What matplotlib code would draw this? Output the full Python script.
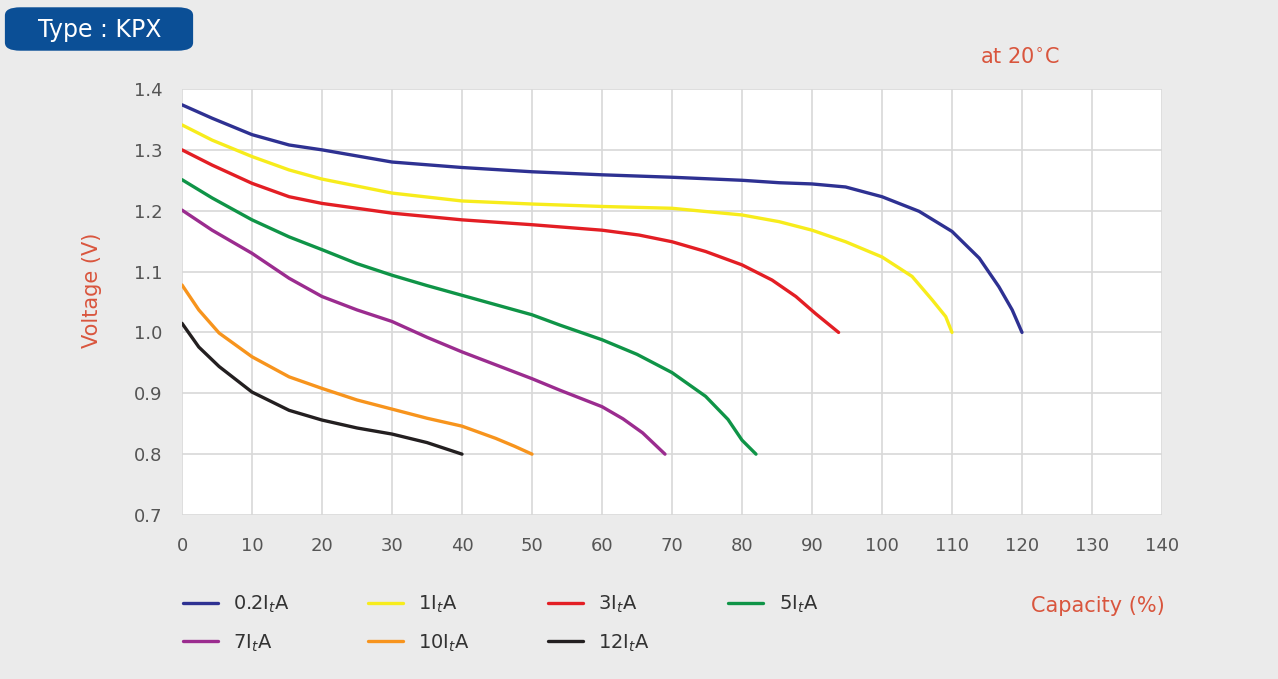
import matplotlib.pyplot as plt
from matplotlib.patches import FancyBboxPatch

# discharge curves (capacity %, voltage V)
cap_02 = [0, 4.3, 10, 15.3, 20, 30, 40, 50, 60, 70, 80, 85.3, 90, 94.8, 100, 105.3, 110, 113.9, 116.7, 118.6, 120]
v_02 = [1.374, 1.352, 1.325, 1.308, 1.300, 1.280, 1.271, 1.264, 1.259, 1.255, 1.250, 1.246, 1.244, 1.239, 1.223,
        1.199, 1.166, 1.122, 1.075, 1.037, 1.000]

cap_1 = [0, 4.3, 10, 15.3, 20, 30, 40, 50, 60, 70, 80, 85.3, 90, 94.8, 100, 104.3, 107.2, 109.1, 110]
v_1 = [1.341, 1.316, 1.289, 1.267, 1.252, 1.229, 1.216, 1.211, 1.207, 1.204, 1.193, 1.182, 1.168, 1.149, 1.124,
       1.092, 1.053, 1.026, 1.000]

cap_3 = [0, 4.3, 10, 15.3, 20, 30, 40, 50, 60, 65.3, 70, 74.8, 80, 84.3, 87.7, 90.5, 93.8]
v_3 = [1.300, 1.275, 1.245, 1.223, 1.212, 1.196, 1.185, 1.177, 1.168, 1.160, 1.149, 1.133, 1.111, 1.086, 1.059,
       1.031, 1.000]

cap_5 = [0, 4.3, 10, 15.3, 20, 25, 30, 35, 40, 45, 50, 54, 60, 65, 70, 74.8, 78, 80, 82]
v_5 = [1.251, 1.221, 1.185, 1.157, 1.136, 1.113, 1.094, 1.077, 1.061, 1.045, 1.029, 1.012, 0.988, 0.964, 0.934,
       0.895, 0.857, 0.823, 0.800]

cap_7 = [0, 4.3, 10, 15.3, 20, 25, 30, 35, 40, 45, 50, 54, 60, 63, 65.8, 69]
v_7 = [1.201, 1.168, 1.130, 1.089, 1.059, 1.037, 1.018, 0.992, 0.968, 0.946, 0.924, 0.905, 0.878, 0.858, 0.835,
       0.800]

cap_10 = [0, 2.4, 5.3, 10, 15.3, 20, 25, 30, 35, 40, 44.8, 47.5, 50]
v_10 = [1.078, 1.037, 0.999, 0.960, 0.927, 0.908, 0.889, 0.874, 0.859, 0.846, 0.826, 0.813, 0.800]

cap_12 = [0, 2.4, 5.3, 10, 15.3, 20, 25, 30, 35, 40]
v_12 = [1.015, 0.976, 0.944, 0.902, 0.872, 0.856, 0.843, 0.833, 0.819, 0.800]

labels = ["0.2I$_t$A", "1I$_t$A", "3I$_t$A", "5I$_t$A", "7I$_t$A", "10I$_t$A", "12I$_t$A"]
colors = ["#2e3192", "#f7ec1c", "#e31e24", "#0f9447", "#9b2c8f", "#f7941d", "#231f20"]
series = [(cap_02, v_02), (cap_1, v_1), (cap_3, v_3), (cap_5, v_5),
          (cap_7, v_7), (cap_10, v_10), (cap_12, v_12)]

fig = plt.figure(figsize=(12.78, 6.79), dpi=100)
fig.patch.set_facecolor("#ebebeb")
ax = fig.add_axes([182 / 1278, 1 - 515 / 679, 980 / 1278, 426 / 679])
ax.set_facecolor("white")

handles = []
for (x, y), c, lab in zip(series, colors, labels):
    h, = ax.plot(x, y, color=c, lw=2.4, label=lab, solid_capstyle="round", solid_joinstyle="round")
    handles.append(h)

ax.set_xlim(0, 140)
ax.set_ylim(0.7, 1.4)
ax.set_xticks(range(0, 141, 10))
ax.set_yticks([0.7, 0.8, 0.9, 1.0, 1.1, 1.2, 1.3, 1.4])
ax.set_yticklabels(["0.7", "0.8", "0.9", "1.0", "1.1", "1.2", "1.3", "1.4"])
ax.grid(True, color="#d8d8d8", lw=1.2)
ax.set_axisbelow(True)
for s in ax.spines.values():
    s.set_visible(False)
ax.tick_params(length=0, labelsize=13, labelcolor="#555555")
ax.tick_params(axis="y", pad=14)
ax.tick_params(axis="x", pad=16)

red_txt = "#d9553d"
fig.text(92 / 1278, 1 - 290 / 679, "Voltage (V)", rotation=90, ha="center", va="center",
         fontsize=15, color=red_txt)
fig.text(1165 / 1278, 1 - 606 / 679, "Capacity (%)", ha="right", va="center",
         fontsize=15, color=red_txt)
fig.text(1060 / 1278, 1 - 57 / 679, "at 20$^{\\circ}$C", ha="right", va="center",
         fontsize=15, color=red_txt)

# title tab
tab = FancyBboxPatch((10 / 1278, 1 - 48 / 679), 178 / 1278, 38 / 679,
                     boxstyle="round,pad=0.004,rounding_size=0.012",
                     transform=fig.transFigure, facecolor="#0b4f96", edgecolor="none")
fig.patches.append(tab)
fig.text(100 / 1278, 1 - 30 / 679, "Type : KPX", ha="center", va="center",
         fontsize=17, color="white")

# legend in row-major order, 4 columns
order = [0, 4, 1, 5, 2, 6, 3]
fig.legend([handles[i] for i in order], [labels[i] for i in order], ncol=4,
           loc="upper left", bbox_to_anchor=(165 / 1278, 1 - 576 / 679),
           frameon=False, fontsize=14, handlelength=1.8, handletextpad=0.8,
           columnspacing=4.0, labelspacing=0.9, labelcolor="#333333")

fig.savefig("out.png", dpi=100, facecolor=fig.get_facecolor())
